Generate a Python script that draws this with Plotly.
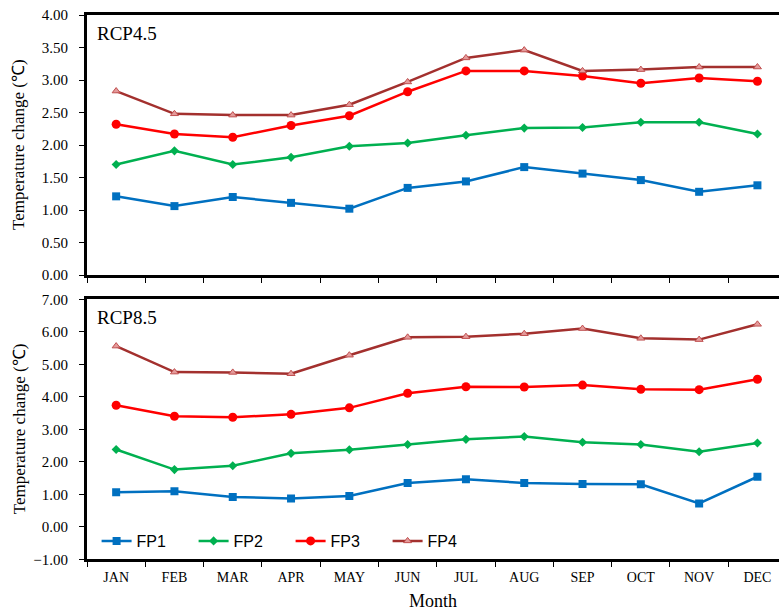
import plotly.graph_objects as go

months = ["JAN", "FEB", "MAR", "APR", "MAY", "JUN", "JUL", "AUG", "SEP", "OCT", "NOV", "DEC"]
series_names = ["FP1", "FP2", "FP3", "FP4"]

rcp45_fp1 = [1.21, 1.06, 1.20, 1.11, 1.02, 1.34, 1.44, 1.66, 1.56, 1.46, 1.28, 1.38]
rcp45_fp2 = [1.70, 1.91, 1.70, 1.81, 1.98, 2.03, 2.15, 2.26, 2.27, 2.35, 2.35, 2.17]
rcp45_fp3 = [2.32, 2.17, 2.12, 2.30, 2.45, 2.82, 3.14, 3.14, 3.06, 2.95, 3.03, 2.98]
rcp45_fp4 = [2.83, 2.48, 2.46, 2.46, 2.62, 2.97, 3.34, 3.46, 3.14, 3.16, 3.20, 3.20]

rcp85_fp1 = [1.06, 1.09, 0.92, 0.87, 0.95, 1.35, 1.46, 1.35, 1.32, 1.31, 0.72, 1.54]
rcp85_fp2 = [2.38, 1.76, 1.88, 2.26, 2.37, 2.53, 2.69, 2.78, 2.60, 2.53, 2.31, 2.58]
rcp85_fp3 = [3.74, 3.40, 3.37, 3.46, 3.66, 4.11, 4.31, 4.30, 4.36, 4.23, 4.22, 4.54]
rcp85_fp4 = [5.56, 4.76, 4.75, 4.71, 5.28, 5.83, 5.85, 5.94, 6.10, 5.80, 5.76, 6.23]

top_ticks = [0.0, 0.5, 1.0, 1.5, 2.0, 2.5, 3.0, 3.5, 4.0]
bot_ticks = [-1, 0, 1, 2, 3, 4, 5, 6, 7]

styles = {
    "FP1": dict(line=dict(color="#0070C0", width=2.5),
                marker=dict(symbol="square", size=8, color="#0070C0")),
    "FP2": dict(line=dict(color="#00B050", width=2.5),
                marker=dict(symbol="diamond", size=7, color="#00B050")),
    "FP3": dict(line=dict(color="#FF0000", width=2.5),
                marker=dict(symbol="circle", size=9, color="#FF0000")),
    "FP4": dict(line=dict(color="#A3302E", width=2.5),
                marker=dict(symbol="triangle-up", size=7, color="#E49A9A",
                            line=dict(color="#C05050", width=1))),
}

fig = go.Figure()
top_data = [rcp45_fp1, rcp45_fp2, rcp45_fp3, rcp45_fp4]
bot_data = [rcp85_fp1, rcp85_fp2, rcp85_fp3, rcp85_fp4]
for name, ys in zip(series_names, top_data):
    fig.add_trace(go.Scatter(x=months, y=ys, name=name, mode="lines+markers",
                             xaxis="x", yaxis="y", showlegend=False, **styles[name]))
for name, ys in zip(series_names, bot_data):
    fig.add_trace(go.Scatter(x=months, y=ys, name=name, mode="lines+markers",
                             xaxis="x2", yaxis="y2", showlegend=True, **styles[name]))

W, H = 779, 610
x_dom = [87 / W, 1.0]
top_dom = [1 - 275 / H, 1 - 15 / H]
bot_dom = [1 - 559.3 / H, 1 - 299.3 / H]
xr = [-0.5, 11.37]

serif = "Liberation Serif, Times New Roman, serif"
axis_common = dict(showline=True, linecolor="black", linewidth=3, showgrid=False,
                   zeroline=False, ticks="outside", ticklen=5, tickwidth=1,
                   tickcolor="black", automargin=False)

fig.update_layout(
    width=W, height=H,
    margin=dict(l=0, r=0, t=0, b=0, autoexpand=False),
    paper_bgcolor="white", plot_bgcolor="white",
    font=dict(family=serif, color="black", size=15),
    xaxis=dict(domain=x_dom, anchor="y", type="category", range=xr,
               tickson="boundaries", showticklabels=False, mirror=True, **axis_common),
    yaxis=dict(domain=top_dom, anchor="x", range=[0, 4], tickvals=top_ticks,
               tickformat=".2f", ticklabelstandoff=8, tickfont=dict(size=15), **axis_common),
    xaxis2=dict(domain=x_dom, anchor="y2", type="category", range=xr,
                tickson="boundaries", mirror=True, ticklabelstandoff=3,
                tickfont=dict(family=serif, size=14), **axis_common),
    yaxis2=dict(domain=bot_dom, anchor="x2", range=[-1, 7], tickvals=bot_ticks,
                tickformat=".2f", ticklabelstandoff=8, tickfont=dict(size=15), **axis_common),
    legend=dict(orientation="h", x=0.124, y=1 - 541 / H, xanchor="left", yanchor="middle",
                bgcolor="rgba(0,0,0,0)", entrywidth=52, entrywidthmode="pixels",
                font=dict(family="Liberation Sans, Arial, sans-serif", size=16),
                itemwidth=30, tracegroupgap=0),
    showlegend=True,
)

ytitle = "Temperature change (℃)"
for dom in (top_dom, bot_dom):
    fig.add_annotation(text=ytitle, xref="paper", yref="paper", x=19 / W, y=(dom[0] + dom[1]) / 2,
                       xanchor="center", yanchor="middle",
                       textangle=-90, showarrow=False, font=dict(family=serif, size=17))
fig.add_annotation(text="RCP4.5", xref="paper", yref="paper", x=95 / W, y=1 - 34 / H,
                   xanchor="left", yanchor="middle", showarrow=False, font=dict(family=serif, size=19))
fig.add_annotation(text="RCP8.5", xref="paper", yref="paper", x=95 / W, y=1 - 317 / H,
                   xanchor="left", yanchor="middle", showarrow=False, font=dict(family=serif, size=19))
fig.add_annotation(text="Month", xref="paper", yref="paper", x=433 / W, y=1 - 601 / H,
                   xanchor="center", yanchor="middle", showarrow=False, font=dict(family=serif, size=18))

fig.write_html("out.html")
